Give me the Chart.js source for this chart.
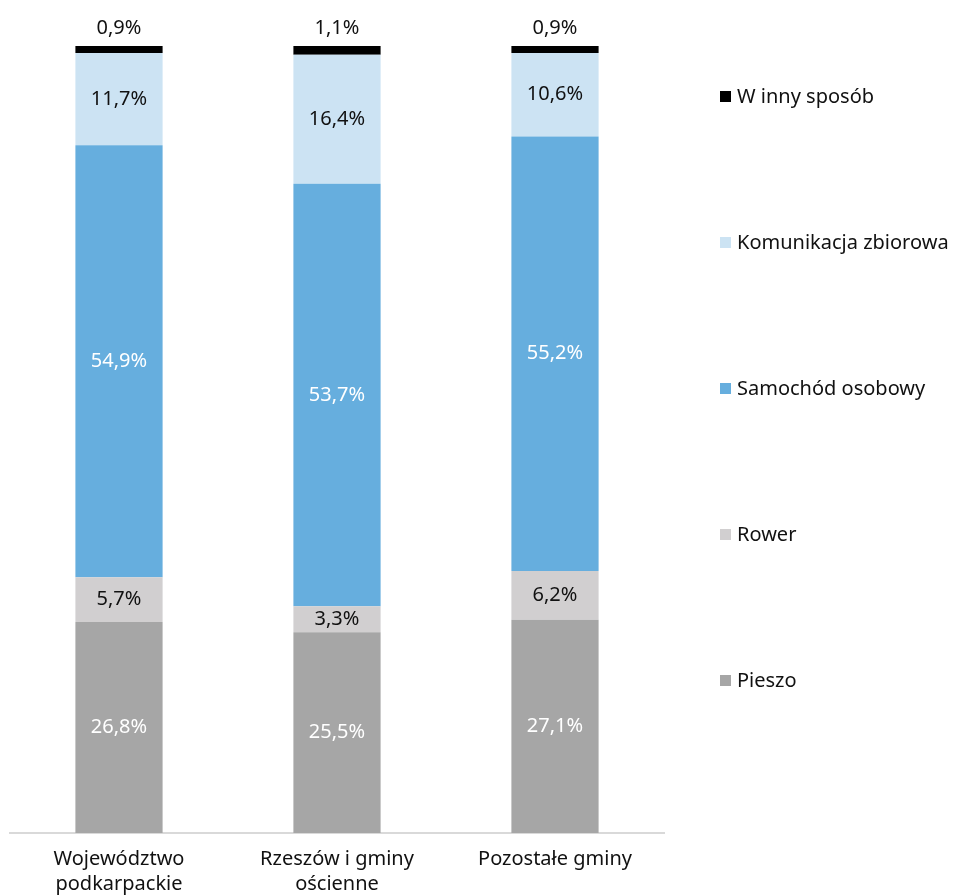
<!DOCTYPE html>
<html lang="pl">
<head>
<meta charset="utf-8">
<title>Sposób dojazdu</title>
<script src="https://cdn.jsdelivr.net/npm/chart.js@4"></script>
<style>
  html, body { margin: 0; padding: 0; background: #fff; }
  #wrap { position: relative; width: 956px; height: 896px; }
  #legend {
    position: absolute; left: 720px; top: 82px;
    font-family: 'Noto Sans', sans-serif; font-size: 20px; color: #111;
  }
  #legend .item { position: absolute; left: 0; white-space: nowrap; display: flex; align-items: center; line-height: 28px; }
  #legend .box { width: 11px; height: 11px; margin-right: 6px; }
</style>
</head>
<body>
<div id="wrap">
  <canvas id="chart" width="956" height="896"></canvas>
  <div id="legend"></div>
</div>
<script>
const categories = [['Województwo', 'podkarpackie'], ['Rzeszów i gminy', 'ościenne'], 'Pozostałe gminy'];

const seriesNames = ['Pieszo', 'Rower', 'Samochód osobowy', 'Komunikacja zbiorowa', 'W inny sposób'];
const pieszo = [26.8, 25.5, 27.1];
const rower = [5.7, 3.3, 6.2];
const samochod = [54.9, 53.7, 55.2];
const komunikacja = [11.7, 16.4, 10.6];
const inny = [0.9, 1.1, 0.9];

const seriesColors = ['#a6a6a6', '#d1cfd0', '#66aede', '#cce3f3', '#000000'];
const labelColors = ['#ffffff', '#111111', '#ffffff', '#111111', '#111111'];
const FONT = "'Noto Sans', sans-serif";

const seriesValues = [pieszo, rower, samochod, komunikacja, inny];

// percent label inside each segment, the thin top one goes above the bar
const segmentLabels = {
  id: 'segmentLabels',
  afterDatasetsDraw(chart) {
    const ctx = chart.ctx;
    ctx.save();
    ctx.font = '20px ' + FONT;
    ctx.textAlign = 'center';
    ctx.textBaseline = 'middle';
    chart.data.datasets.forEach((ds, i) => {
      chart.getDatasetMeta(i).data.forEach((bar, j) => {
        const txt = ds.data[j].toFixed(1).replace('.', ',') + '%';
        let y = (bar.y + bar.base) / 2;
        if (i === 4) y = bar.y - 18;
        ctx.fillStyle = labelColors[i];
        ctx.fillText(txt, bar.x, y);
      });
    });
    ctx.restore();
  }
};

new Chart(document.getElementById('chart'), {
  type: 'bar',
  data: {
    labels: categories,
    datasets: seriesNames.map((name, i) => ({
      label: name,
      data: seriesValues[i],
      backgroundColor: seriesColors[i],
      borderWidth: 0,
      barPercentage: 0.4,
      categoryPercentage: 1
    }))
  },
  options: {
    responsive: false,
    animation: false,
    layout: { padding: { left: 10, right: 292, top: 46, bottom: 0 } },
    plugins: {
      legend: { display: false },
      tooltip: { enabled: false }
    },
    scales: {
      x: {
        stacked: true,
        grid: { display: false, drawTicks: false },
        border: { display: true, color: '#d9d9d9', width: 2 },
        ticks: { color: '#111', font: { family: FONT, size: 20, lineHeight: 1.25 }, padding: 14, maxRotation: 0 },
        afterFit(scale) { scale.height = 63; }
      },
      y: {
        stacked: true,
        display: false,
        min: 0,
        max: 100
      }
    }
  },
  plugins: [segmentLabels]
});

// legend on the right, top item is the last series
const legend = document.getElementById('legend');
const order = [4, 3, 2, 1, 0];
order.forEach((idx, k) => {
  const item = document.createElement('div');
  item.className = 'item';
  item.style.top = (k * 146) + 'px';
  item.innerHTML = `<span class="box" style="background:${seriesColors[idx]}"></span>${seriesNames[idx]}`;
  legend.appendChild(item);
});
</script>
</body>
</html>
